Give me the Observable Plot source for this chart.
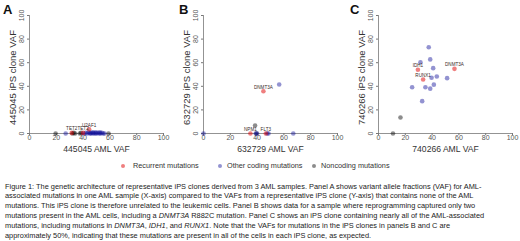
<!DOCTYPE html>
<html><head><meta charset="utf-8">
<script src="https://cdn.jsdelivr.net/npm/d3@7"></script>
<script src="https://cdn.jsdelivr.net/npm/@observablehq/plot@0.6"></script>
<style>
body{margin:0;background:#fff;font-family:Arial,"Liberation Sans",Helvetica,sans-serif;}
#root{position:relative;width:520px;height:241px;overflow:hidden;background:#fff;}
.panel{position:absolute;top:0;}
.letter{position:absolute;top:3px;font-weight:bold;font-size:13px;line-height:13px;color:#111;}
.leg{position:absolute;font-size:7.3px;line-height:8px;color:#333;white-space:nowrap;}
.mk{position:absolute;width:4px;height:4px;border-radius:50%;}
#cap{position:absolute;left:5px;top:181.5px;font-size:7.4px;line-height:9.9px;color:#222;white-space:nowrap;}
</style></head>
<body><div id="root"></div>
<script>
// ---- data ----
const xTicks = [0, 20, 40, 60, 80, 100];
const yTicks = [0, 20, 40, 60, 80, 100];
const legendLabels = ["Recurrent mutations", "Other coding mutations", "Noncoding mutations"];

// Panel A: 445045
const recA_gene = ["TET2", "TET2", "U2AF1"];
const recA_aml = [31.5, 40, 44.5];
const recA_ips = [0.5, 0.5, 3.5];
const codA_aml = [27, 40.5, 42, 43, 44, 45, 45.5, 46, 47, 47.5, 48, 49, 49.5, 50, 51, 52, 52.5, 53, 54, 55, 56];
const codA_ips = [0, 0, 0.5, 0, 1, 0, 0.5, 0, 1, 0, 0.5, 0, 1, 0, 0.5, 0, 1, 0, 0.5, 0, 0];
const nonA_aml = [19.5, 32, 33, 34, 37.5, 38.5, 59];
const nonA_ips = [0, 0, 0.5, 0, 0, 0.5, 0];

// Panel B: 632729
const recB_gene = ["DNMT3A", "NPM1", "FLT3"];
const recB_aml = [44.7, 35, 46.5];
const recB_ips = [35.8, 0, 0];
const codB_aml = [0, 56.5, 39, 40, 47.5, 48.5, 67];
const codB_ips = [0, 41.5, 0, 0, 0, 0, 0];
const nonB_aml = [38.5, 39.5];
const nonB_ips = [6.8, 0];

// Panel C: 740266
const recC_gene = ["IDH1", "RUNX1", "DNMT3A"];
const recC_aml = [29.4, 33.3, 56.7];
const recC_ips = [54, 45.8, 54.8];
const codC_aml = [25.1, 32.6, 31.3, 37.5, 38.6, 40.8, 39.6, 43.5, 41.3, 35, 38.6, 51.2];
const codC_ips = [39.2, 27.4, 60.4, 73.1, 62.8, 55.4, 47.2, 48.3, 41.4, 39.2, 38, 46.9];
const nonC_aml = [10.8, 16.4];
const nonC_ips = [0, 13.5];

const colRec = "#e00000", colCod = "#10109a", colNon = "#000000";

function zip(xs, ys, genes) { return xs.map((x, i) => ({x, y: ys[i], g: genes ? genes[i] : null})); }

function panel(p) {
  const rec = zip(p.recX, p.recY, p.genes), cod = zip(p.codX, p.codY), non = zip(p.nonX, p.nonY);
  return Plot.plot({
    width: 170, height: 155, marginLeft: 29, marginRight: 7, marginTop: 15, marginBottom: 22,
    x: {domain: [0, 100]}, y: {domain: [0, 100]},
    style: {fontFamily: "Arial, 'Liberation Sans', sans-serif", background: "transparent", overflow: "visible"},
    marks: [
      Plot.ruleY([0], {stroke: "#777", strokeWidth: 0.8}),
      Plot.ruleX([0], {stroke: "#777", strokeWidth: 0.8}),
      Plot.axisX({ticks: xTicks, tickSize: 2, tickPadding: 0, fontSize: 7, stroke: "#777", fill: "#555", label: null}),
      Plot.axisY({ticks: yTicks, tickSize: 2, tickFormat: () => "", stroke: "#777", label: null}),
      Plot.text(yTicks, {y: d => d, text: d => String(d), frameAnchor: "left", textAnchor: "middle", lineAnchor: "middle", dx: -8, rotate: -90, fontSize: 7, fill: "#555"}),
      Plot.text([p.xTitle], {text: d => d, frameAnchor: "bottom", textAnchor: "middle", lineAnchor: "middle", dy: 16, fontSize: 8.6, fill: "#333"}),
      Plot.text([p.yTitle], {text: d => d, frameAnchor: "left", textAnchor: "middle", lineAnchor: "middle", rotate: -90, dx: -17, dy: 3, fontSize: 9.5, fill: "#333"}),
      Plot.dot(non, {x: "x", y: "y", r: 2.3, fill: colNon, fillOpacity: 0.45}),
      Plot.dot(cod, {x: "x", y: "y", r: 2.3, fill: colCod, fillOpacity: 0.45}),
      Plot.dot(rec, {x: "x", y: "y", r: 2.3, fill: colRec, fillOpacity: 0.5}),
      Plot.text(rec, {x: "x", y: "y", text: "g", dy: -4.2, fontSize: 4.6, fill: "#3a2a2a"})
    ]
  });
}

const root = document.getElementById("root");
const panels = [
  {left: 0, letter: "A", letterLeft: 3, xTitle: "445045 AML VAF", yTitle: "445045 iPS clone VAF",
   genes: recA_gene, recX: recA_aml, recY: recA_ips, codX: codA_aml, codY: codA_ips, nonX: nonA_aml, nonY: nonA_ips},
  {left: 174, letter: "B", letterLeft: 179, xTitle: "632729 AML VAF", yTitle: "632729 iPS clone VAF",
   genes: recB_gene, recX: recB_aml, recY: recB_ips, codX: codB_aml, codY: codB_ips, nonX: nonB_aml, nonY: nonB_ips},
  {left: 349, letter: "C", letterLeft: 350, xTitle: "740266 AML VAF", yTitle: "740266 iPS clone VAF",
   genes: recC_gene, recX: recC_aml, recY: recC_ips, codX: codC_aml, codY: codC_ips, nonX: nonC_aml, nonY: nonC_ips}
];
for (const p of panels) {
  const d = document.createElement("div");
  d.className = "panel"; d.style.left = p.left + "px";
  d.appendChild(panel(p));
  root.appendChild(d);
  const l = document.createElement("div");
  l.className = "letter"; l.style.left = p.letterLeft + "px"; l.textContent = p.letter;
  root.appendChild(l);
}

// legend
const legCols = [[colRec, 0.5], [colCod, 0.45], [colNon, 0.45]];
const legMk = [123, 220, 314], legTx = [133, 227, 321];
legendLabels.forEach((t, i) => {
  const m = document.createElement("div");
  m.className = "mk"; m.style.left = (legMk[i] - 2) + "px"; m.style.top = "163.5px";
  m.style.background = legCols[i][0]; m.style.opacity = legCols[i][1];
  root.appendChild(m);
  const s = document.createElement("div");
  s.className = "leg"; s.style.left = legTx[i] + "px"; s.style.top = "161.5px"; s.textContent = t;
  root.appendChild(s);
});

// caption
const cap = document.createElement("div");
cap.id = "cap";
cap.innerHTML = [
  "Figure 1: The genetic architecture of representative iPS clones derived from 3 AML samples. Panel A shows variant allele fractions (VAF) for AML-",
  "associated mutations in one AML sample (X-axis) compared to the VAFs from a representative iPS clone (Y-axis) that contains none of the AML",
  "mutations. This iPS clone is therefore unrelated to the leukemic cells. Panel B shows data for a sample where reprogramming captured only two",
  "mutations present in the AML cells, including a <i>DNMT3A</i> R882C mutation. Panel C shows an iPS clone containing nearly all of the AML-associated",
  "mutations, including mutations in <i>DNMT3A</i>, <i>IDH1</i>, and <i>RUNX1</i>. Note that the VAFs for mutations in the iPS clones in panels B and C are",
  "approximately 50%, indicating that these mutations are present in all of the cells in each iPS clone, as expected."
].join("<br>");
root.appendChild(cap);
</script>
</body></html>
